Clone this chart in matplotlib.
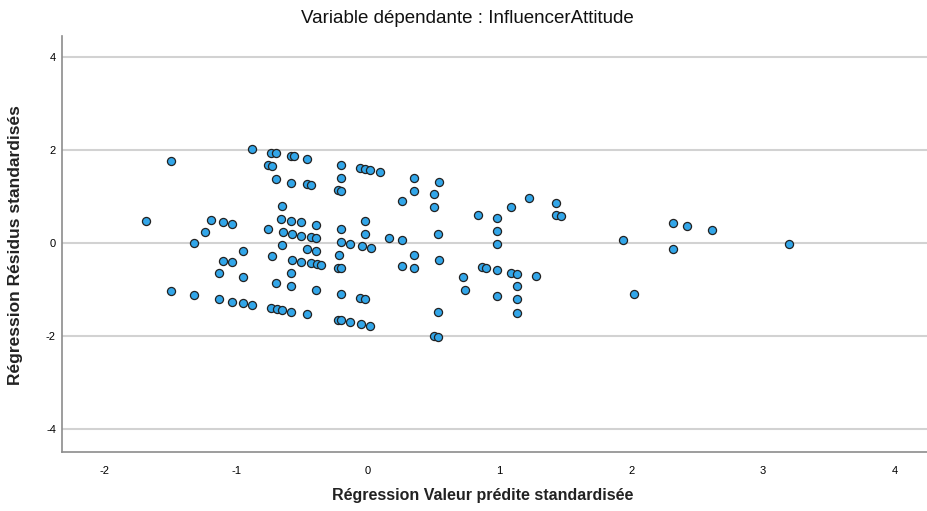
import matplotlib
matplotlib.use('Agg')
import matplotlib.pyplot as plt

# valeurs prédites standardisées (x) et résidus standardisés (y)
pred = [-0.88, -1.50, -1.69, -1.19, -1.10, -1.03, -1.24, -1.32, -0.95, -1.10,
        -1.03, -1.13, -0.95, -1.50, -1.32, -1.13, -1.03, -0.95, -0.88,
        -0.735, -0.70, -0.583, -0.56, -0.464, -0.762, -0.73, -0.208, -0.061, -0.023,
        0.018, 0.089, -0.70, -0.583, -0.464, -0.433, -0.208, -0.226, -0.205, -0.656,
        -0.76, -0.659, -0.583, -0.509, -0.393, -0.646, -0.578, -0.509, -0.436, -0.393,
        -0.208, -0.02, -0.02, -0.208, -0.137, -0.043, 0.02, 0.157, -0.656, -0.732,
        -0.461, -0.393, -0.578, -0.509, -0.436, -0.385, -0.357, -0.22, -0.226, -0.205,
        -0.583, -0.70, -0.583, -0.393, -0.208, -0.061, -0.02, -0.735, -0.694, -0.656,
        -0.583, -0.464, -0.226, -0.205, -0.137, -0.053, 0.018,
        0.35, 0.537, 0.35, 0.499, 0.256, 0.499, 0.836, 0.532, 0.256, 0.35,
        0.537, 0.256, 0.35, 0.864, 0.90, 0.72, 0.735, 0.532, 0.499, 0.534,
        0.983, 0.983, 0.983, 1.089, 1.221, 1.429, 1.429, 1.464, 1.94, 0.983,
        1.089, 1.135, 1.277, 1.135, 0.983, 1.135, 1.135,
        2.315, 2.424, 2.614, 2.315, 3.20, 2.02]
resid = [2.01, 1.76, 0.47, 0.495, 0.45, 0.415, 0.243, 0.0, -0.18, -0.38,
         -0.42, -0.645, -0.73, -1.025, -1.11, -1.20, -1.26, -1.29, -1.33,
         1.94, 1.93, 1.87, 1.86, 1.81, 1.68, 1.66, 1.68, 1.61, 1.58,
         1.57, 1.53, 1.37, 1.30, 1.26, 1.25, 1.40, 1.13, 1.125, 0.79,
         0.29, 0.51, 0.47, 0.44, 0.38, 0.237, 0.19, 0.15, 0.12, 0.10,
         0.29, 0.47, 0.19, 0.015, -0.03, -0.07, -0.10, 0.107, -0.05, -0.29,
         -0.136, -0.18, -0.36, -0.40, -0.44, -0.46, -0.47, -0.265, -0.54, -0.545,
         -0.64, -0.86, -0.92, -1.01, -1.10, -1.18, -1.20, -1.40, -1.43, -1.44,
         -1.48, -1.53, -1.66, -1.66, -1.69, -1.735, -1.78,
         1.40, 1.31, 1.125, 1.05, 0.90, 0.77, 0.61, 0.20, 0.057, -0.265,
         -0.36, -0.495, -0.545, -0.515, -0.53, -0.73, -1.02, -1.48, -2.01, -2.03,
         0.53, 0.25, -0.02, 0.77, 0.97, 0.87, 0.595, 0.57, 0.057, -0.58,
         -0.64, -0.66, -0.72, -0.93, -1.14, -1.21, -1.50,
         0.43, 0.37, 0.28, -0.135, -0.015, -1.10]
xticks = [-2, -1, 0, 1, 2, 3, 4]
yticks = [-4, -2, 0, 2, 4]

plt.rcParams['font.family'] = ['Liberation Sans', 'DejaVu Sans']
plt.rcParams['axes.unicode_minus'] = False

fig = plt.figure(figsize=(9.28, 5.11), dpi=100)
ax = fig.add_axes([0.0663, 0.1155, 0.9337, 0.814])

for y in yticks:
    ax.axhline(y, color='#d2d2d2', lw=1.5, zorder=0)

ax.scatter(pred, resid, s=34, c='#32a6e9', edgecolors='#222222', linewidths=0.9, zorder=3)

ax.set_xlim(-2.329, 4.255)
ax.set_ylim(-4.495, 4.45)
ax.set_xticks(xticks)
ax.set_yticks(yticks)
ax.tick_params(length=0, labelsize=8, pad=10)
ax.tick_params(axis='y', pad=4)
for lab in ax.get_xticklabels() + ax.get_yticklabels():
    lab.set_family(['Liberation Sans Narrow', 'Liberation Sans'])

for s in ['top', 'right']:
    ax.spines[s].set_visible(False)
for s in ['left', 'bottom']:
    ax.spines[s].set_color('#8c8c8c')
    ax.spines[s].set_linewidth(1.2)

fig.text(0.504, 0.963, 'Variable dépendante : InfluencerAttitude',
         ha='center', va='center', fontsize=13.5, color='#111111')
fig.text(0.52, 0.031, 'Régression Valeur prédite standardisée',
         ha='center', va='center', fontsize=11.5, fontweight='bold', color='#222222')
fig.text(0.017, 0.52, 'Régression Résidus standardisés', rotation=90,
         ha='center', va='center', fontsize=12.5, fontweight='bold', color='#222222')

fig.savefig('out.png', dpi=100)
